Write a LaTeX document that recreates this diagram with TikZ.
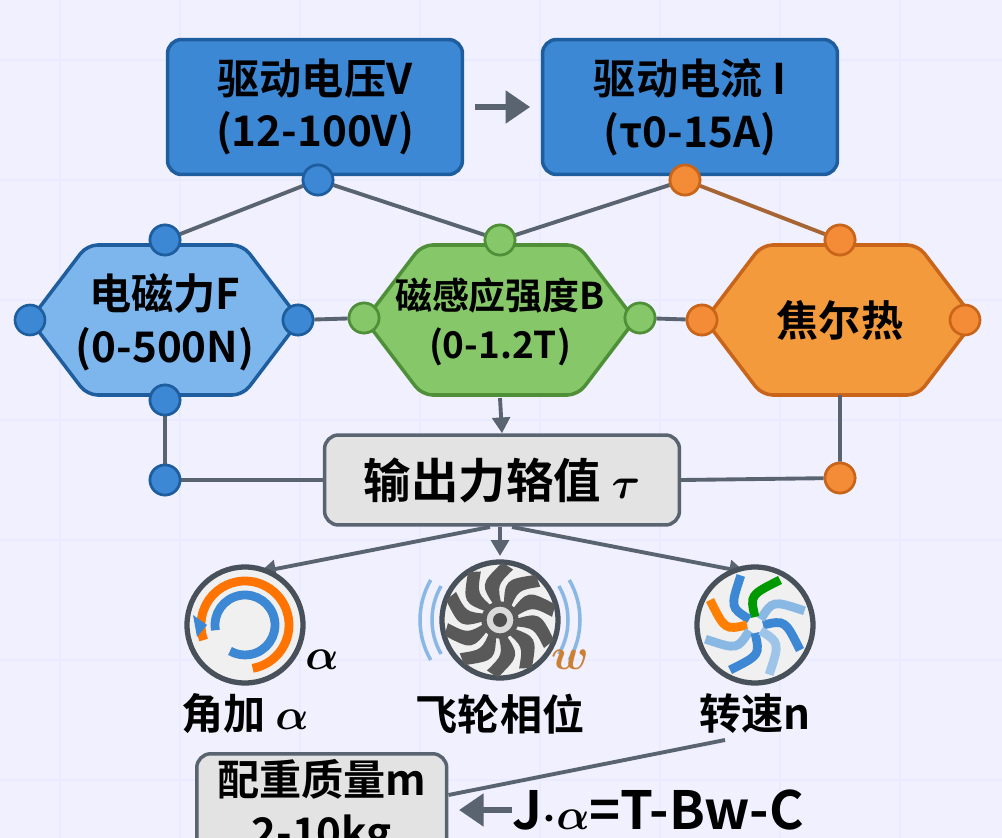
\documentclass[tikz,border=0pt]{standalone}
\usepackage{amsmath}
\usepackage{fontspec}
\setmainfont{Noto Sans CJK SC}[BoldFont={Noto Sans CJK SC Bold}]
\usetikzlibrary{arrows.meta,calc}
\definecolor{bfill}{HTML}{3C88D4}\definecolor{bdark}{HTML}{1F5E9E}
\definecolor{lbfill}{HTML}{7DB6EC}
\definecolor{gfill}{HTML}{86C76A}\definecolor{gdark}{HTML}{4E8F38}
\definecolor{ofill}{HTML}{F39A3C}\definecolor{odark}{HTML}{C8651A}
\definecolor{line}{HTML}{5A6470}
\tikzset{
 box/.style={draw=bdark,line width=2pt,fill=bfill,rounded corners=8pt,minimum width=5.9cm,minimum height=2.7cm,align=center,font=\bfseries\fontsize{24}{30}\selectfont},
 gbox/.style={draw=line,line width=2pt,fill=gray!22,rounded corners=8pt,align=center,font=\bfseries},
 conn/.style={line width=2.2pt,draw=line},
 arr/.style={conn,-{Triangle[length=9pt,width=10pt]}},
 bigarr/.style={line width=3.5pt,draw=line,-{Triangle[length=14pt,width=18pt]}},
 dotb/.style={circle,draw=bdark,fill=bfill,line width=1.5pt,minimum size=0.6cm,inner sep=0},
 dotg/.style={circle,draw=gdark,fill=gfill,line width=1.5pt,minimum size=0.6cm,inner sep=0},
 doto/.style={circle,draw=odark,fill=ofill!90!red,line width=1.5pt,minimum size=0.6cm,inner sep=0},
 lab/.style={font=\bfseries\fontsize{24}{30}\selectfont,align=center},
}
\begin{document}
\begin{tikzpicture}[x=0.02cm,y=-0.02cm]
\fill[white!94!blue] (0,0) rectangle (1002,838);
\useasboundingbox (0,0) rectangle (1002,838);
\foreach \x in {60,180,300,420,540,660,780,900}{\draw[blue!8,line width=0.8pt] (\x,0)--(\x,838);}
\foreach \y in {60,180,300,420,540,660,780}{\draw[blue!8,line width=0.8pt] (0,\y)--(1002,\y);}
% top boxes
\node[box] (V) at (315,107) {驱动电压V\\(12-100V)};
\node[box] (I) at (690,107) {驱动电流 I\\(τ0-15A)};
\draw[bigarr] ([xshift=6]V.east) -- ([xshift=-6]I.west);
% hexagons
\foreach \cx/\fc/\dc in {165/lbfill/bdark,500/gfill/gdark,840/ofill/odark}{
 \draw[fill=\fc,draw=\dc,line width=2pt,rounded corners=6pt] (\cx-135,320)--(\cx-78,245)--(\cx+78,245)--(\cx+135,320)--(\cx+78,395)--(\cx-78,395)--cycle;}
\node[lab] (F) at (165,322) {电磁力F\\(0-500N)};
\node[lab,font=\bfseries\fontsize{21}{28}\selectfont] (B) at (500,322) {磁感应强度B\\(0-1.2T)};
\node[lab] (H) at (840,320) {焦尔热};
% tau box
\node[gbox,minimum width=7.1cm,minimum height=1.8cm,font=\bfseries\fontsize{27}{32}\selectfont] (T) at (502,480) {输出力辂值 {\fontsize{34}{34}\selectfont$\boldsymbol{\tau}$}};
% dots
\node[dotb] (d1) at (318,180) {};
\node[doto] (d2) at (685,180) {};
\node[dotb] (f1) at (165,240) {};
\node[dotb] (f2) at (30,320) {};
\node[dotb] (f3) at (298,320) {};
\node[dotb] (f4) at (165,400) {};
\node[dotb] (f5) at (165,480) {};
\node[dotg] (b1) at (500,240) {};
\node[dotg] (b2) at (364,318) {};
\node[dotg] (b3) at (640,318) {};
\node[doto] (h1) at (840,240) {};
\node[doto] (h2) at (702,320) {};
\node[doto] (h3) at (965,320) {};
\node[doto] (h4) at (840,478) {};
% connectors
\draw[conn] (d1)--(f1) (d1)--(b1) (d2)--(b1);
\draw[conn,draw=odark!70!line] (d2)--(h1);
\draw[conn] (f3)--(b2) (b3)--(h2);
\draw[conn] (f4)--(f5) (f5)--(T.west);
\draw[conn] (T.east)--(h4) (840,395)--(h4);
\draw[arr] (500,398)--(T.north);
% redraw dots on top
\foreach \s/\x/\y in {dotb/318/180,doto/685/180,dotb/165/240,dotb/165/400,dotb/165/480,dotg/500/240,dotg/364/318,dotb/298/320,dotg/640/318,doto/840/240,doto/702/320,doto/840/478}{\node[\s] at (\x,\y) {};}
% icons
\coordinate (i1) at (245,625); \coordinate (i2) at (500,620); \coordinate (i3) at (755,625);
\draw[arr] (490,527) -- (260,572);
\draw[arr] (500,527)--(500,556);
\draw[arr] (512,527)--(745,572);
\foreach \c in {i1,i2,i3}{\draw[line width=3pt,draw=line!80!black,fill=gray!12] (\c) circle (58);}
\draw[line width=5pt,orange!90!red] ($(i1)+(80:44)$) arc (80:-200:44);
\draw[line width=5pt,bfill] ($(i1)+(-190:30)$) arc (-190:120:30);
\fill[bfill] ($(i1)+(-38,0)$)--++(-14,-10)--++(4,22)--cycle;
\node[font=\fontsize{40}{40}\selectfont] (al) at (322,660) {$\boldsymbol{\alpha}$};
% flywheel
\foreach \a in {0,36,...,324}{\fill[gray!70!black,rotate around={\a:(i2)}] ($(i2)+(12,0)$) .. controls ($(i2)+(40,-8)$) .. ($(i2)+(54,20)$) -- ($(i2)+(44,28)$) .. controls ($(i2)+(34,8)$) .. ($(i2)+(12,6)$)--cycle;}
\draw[line width=3pt,gray!70!black,fill=gray!30] (i2) circle (16);
\fill[gray!60!black] (i2) circle (7);
\foreach \r in {68,80}{\draw[bfill!60,line width=2pt] ($(i2)+(150:\r)$) arc (150:210:\r); \draw[bfill!60,line width=2pt] ($(i2)+(-30:\r)$) arc (-30:30:\r);}
\node[font=\fontsize{40}{40}\selectfont,text=brown!80!orange] (w) at (570,660) {$\boldsymbol{w}$};
% speed
\foreach \a/\cl in {0/bfill,45/bfill!60,90/green!60!black,135/bfill,180/orange,225/bfill!60,270/bfill,315/bfill!50}{\draw[\cl,line width=5pt,rotate around={\a:(i3)}] ($(i3)+(8,0)$) .. controls ($(i3)+(30,-5)$) .. ($(i3)+(45,25)$);}
\node[lab] (l1) at (245,714) {角加 {\fontsize{32}{32}\selectfont$\boldsymbol{\alpha}$}};
\node[lab] (l2) at (500,714) {飞轮相位};
\node[lab] (l3) at (755,714) {转速n};
% bottom
\node[gbox,minimum width=5cm,minimum height=2cm,font=\bfseries\fontsize{24}{30}\selectfont,anchor=north west] (M) at (195,752) {配重质量m\\2-10kg};
\coordinate (c3) at (725,740);
\coordinate (m1) at (M.east |- 0,795);
\coordinate (m2) at (M.east |- 0,810);
\draw[conn] (c3) -- (m1);
\node[font=\bfseries\fontsize{30}{34}\selectfont,anchor=west,inner sep=0] (E) at (512,810) {J$\boldsymbol{\cdot\alpha}$=T-Bw-C};
\draw[bigarr] (E.west)--([xshift=6]m2);
\end{tikzpicture}
\end{document}
